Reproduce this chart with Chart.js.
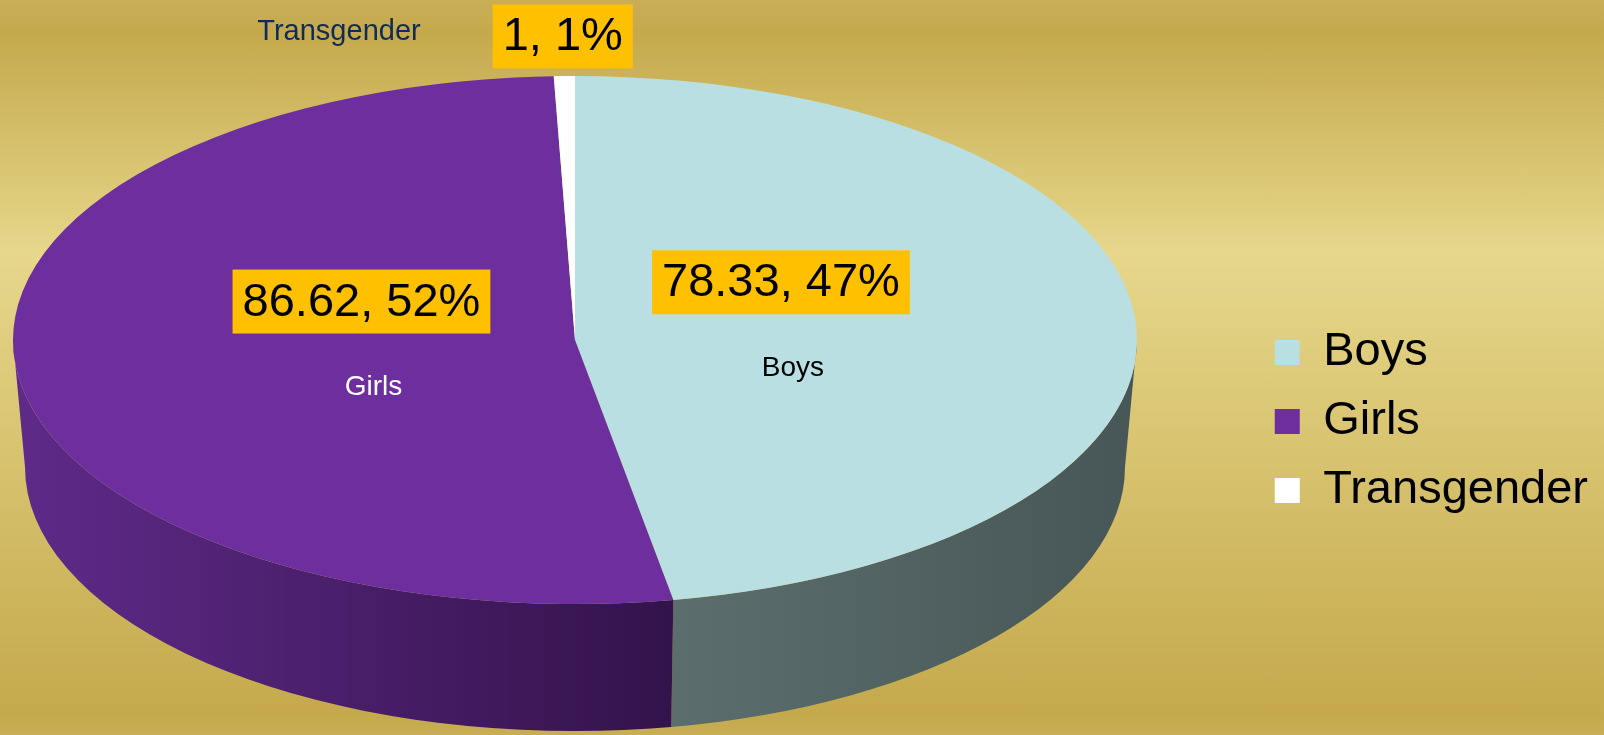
<!DOCTYPE html>
<html>
<head>
<meta charset="utf-8">
<script src="https://cdn.jsdelivr.net/npm/chart.js@4.4.0/dist/chart.umd.min.js"></script>
<style>
  html, body { margin: 0; padding: 0; }
  body {
    width: 1604px; height: 735px; overflow: hidden;
    background: linear-gradient(to bottom, #c9ae57 0px, #c5a94c 33px, #e6d78b 253px, #c5a94c 713px, #c8ad53 735px);
  }
  #wrap { position: relative; width: 1604px; height: 735px; }
</style>
</head>
<body>
<div id="wrap"><canvas id="myChart"></canvas></div>
<script>
const categories = ['Boys', 'Girls', 'Transgender'];
const values = [78.33, 86.62, 1];

const sliceColors = ['#b9dfe2', '#6e2f9e', '#ffffff'];
const sideColors = [['#5b6e6d', '#475656'], ['#5f2a89', '#33134b'], ['#e0e0e0', '#c0c0c0']];
const nameColors = ['#000000', '#ffffff', '#0f2b5b'];

// top face ellipse + wall depth
const PIE = { cx: 575, cy: 340, rx: 562, ry: 264, depth: 127, rxBottom: 550 };
const FONT = '"Liberation Sans", Arial, sans-serif';

const pie3d = {
  id: 'pie3d',
  beforeDatasetsDraw(chart) {
    const ctx = chart.ctx;
    const arcs = chart.getDatasetMeta(0).data;

    // side wall, only the front half (0..PI) can be seen
    arcs.forEach((arc, i) => {
      const a0 = Math.max(arc.startAngle, 0);
      const b0 = Math.min(arc.endAngle, Math.PI);
      if (b0 <= a0) return;
      const xL = PIE.cx + PIE.rx * Math.cos(b0);
      const xR = PIE.cx + PIE.rx * Math.cos(a0);
      const grad = ctx.createLinearGradient(xL, 0, xR, 0);
      grad.addColorStop(0, sideColors[i][0]);
      grad.addColorStop(1, sideColors[i][1]);
      ctx.beginPath();
      ctx.ellipse(PIE.cx, PIE.cy, PIE.rx, PIE.ry, 0, a0, b0);
      ctx.ellipse(PIE.cx, PIE.cy + PIE.depth, PIE.rxBottom, PIE.ry, 0, b0, a0, true);
      ctx.closePath();
      ctx.fillStyle = grad;
      ctx.fill();
    });

    // squash the circular pie into the tilted top face
    const arc0 = arcs[0];
    ctx.save();
    ctx.translate(PIE.cx, PIE.cy);
    ctx.scale(1, PIE.ry / PIE.rx);
    ctx.translate(-arc0.x, -arc0.y);
  },
  afterDatasetsDraw(chart) {
    const ctx = chart.ctx;
    ctx.restore();

    const arcs = chart.getDatasetMeta(0).data;
    const total = values.reduce((s, v) => s + v, 0);
    arcs.forEach((arc, i) => {
      const mid = (arc.startAngle + arc.endAngle) / 2;
      const share = values[i] / total;
      const text = values[i] + ', ' + Math.round(share * 100) + '%';
      ctx.font = '47px ' + FONT;
      const bw = ctx.measureText(text).width + 20;
      const bh = 64;
      let bx, by, nx, ny, align, nameSize;
      if (share > 0.05) {
        const ax = PIE.cx + 0.375 * PIE.rx * Math.cos(mid);
        const ay = PIE.cy + 0.375 * PIE.ry * Math.sin(mid);
        bx = ax - 4; by = ay - 49;
        nx = ax + 8; ny = ay + 37;
        align = 'center'; nameSize = 28;
      } else {
        bx = PIE.cx + 1.15 * PIE.rx * Math.cos(mid);
        by = PIE.cy + 1.15 * PIE.ry * Math.sin(mid);
        nx = bx - bw / 2 - 72; ny = by - 4;
        align = 'right'; nameSize = 29;
      }
      ctx.fillStyle = '#ffc000';
      ctx.fillRect(bx - bw / 2, by - bh / 2, bw, bh);
      ctx.fillStyle = '#000';
      ctx.textAlign = 'center';
      ctx.textBaseline = 'middle';
      ctx.fillText(text, bx, by + 1);

      ctx.font = nameSize + 'px ' + FONT;
      ctx.fillStyle = nameColors[i];
      ctx.textAlign = align;
      ctx.fillText(categories[i], nx, ny);
    });
  }
};

const ctx = document.getElementById('myChart').getContext('2d');
const myChart = new Chart(ctx, {
  type: 'pie',
  data: {
    labels: categories,
    datasets: [{
      data: values,
      backgroundColor: sliceColors,
      borderWidth: 0,
      radius: PIE.rx,
      clip: false
    }]
  },
  options: {
    responsive: true,
    maintainAspectRatio: false,
    animation: false,
    events: [],
    layout: {
      padding: { top: 108, right: 6, bottom: 0, left: 0 }
    },
    plugins: {
      legend: {
        position: 'right',
        labels: {
          color: '#000',
          font: { family: FONT, size: 47 },
          boxWidth: 25,
          boxHeight: 25,
          padding: 22
        }
      },
      tooltip: { enabled: false }
    }
  },
  plugins: [pie3d]
});
</script>
</body>
</html>
